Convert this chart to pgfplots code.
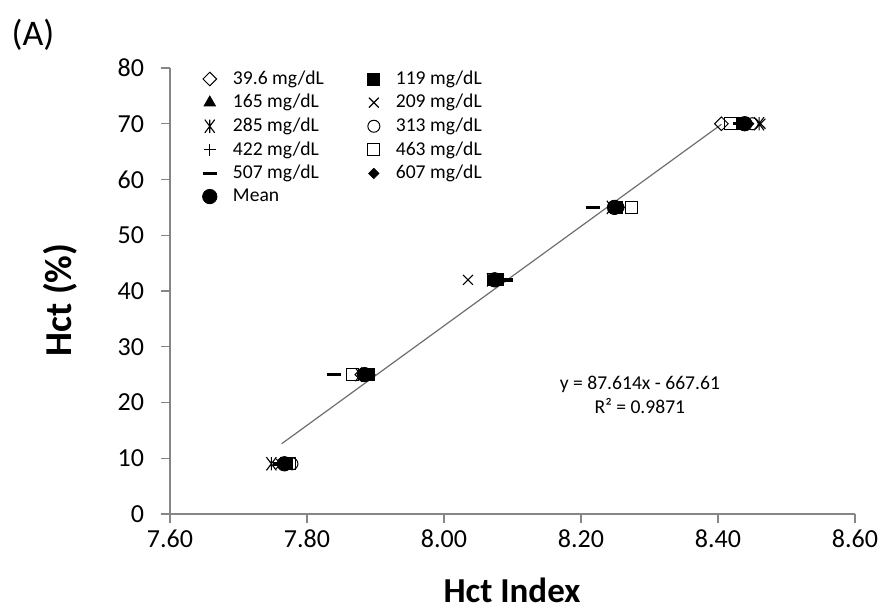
\documentclass[border=0pt]{standalone}
\usepackage{pgfplots}
\pgfplotsset{compat=1.18}
\usepackage{fontspec}
\setmainfont{Carlito}
\definecolor{axisGray}{RGB}{134,134,134}
\definecolor{fitGray}{RGB}{110,110,110}

\pgfdeclareplotmark{xstar}{%
  \pgfpathmoveto{\pgfqpoint{-.75\pgfplotmarksize}{-\pgfplotmarksize}}%
  \pgfpathlineto{\pgfqpoint{.75\pgfplotmarksize}{\pgfplotmarksize}}%
  \pgfpathmoveto{\pgfqpoint{-.75\pgfplotmarksize}{\pgfplotmarksize}}%
  \pgfpathlineto{\pgfqpoint{.75\pgfplotmarksize}{-\pgfplotmarksize}}%
  \pgfpathmoveto{\pgfqpoint{0pt}{-\pgfplotmarksize}}%
  \pgfpathlineto{\pgfqpoint{0pt}{\pgfplotmarksize}}%
  \pgfusepathqstroke}

\begin{document}
\begin{tikzpicture}
\path[use as bounding box] (-85pt,-47.5pt) rectangle (354.5pt,257pt);

\begin{axis}[
    scale only axis,
    width=342.5pt,
    height=223pt,
    xmin=7.6, xmax=8.6,
    ymin=0, ymax=80,
    xtick={7.6,7.8,8.0,8.2,8.4,8.6},
    ytick={0,10,20,30,40,50,60,70,80},
    axis x line*=bottom,
    axis y line*=left,
    axis line style={axisGray, line width=0.6pt},
    tick style={axisGray, line width=0.6pt},
    tick align=outside,
    major tick length=4.5pt,
    tick label style={font=\fontsize{13}{15}\selectfont},
    xticklabel style={/pgf/number format/.cd, fixed, fixed zerofill, precision=2},
    yticklabel style={xshift=-5pt},
    /pgf/number format/assume math mode=true,
    scaled ticks=false,
    clip=false,
    legend columns=2,
    legend cell align=left,
    legend style={
        at={(axis cs:7.647,80.3)},
        anchor=north west,
        draw=none,
        fill=none,
        font=\fontsize{9.8}{11}\selectfont,
        inner sep=0pt,
        row sep=-0.5pt,
        /tikz/every odd column/.append style={column sep=6pt},
        /tikz/every even column/.append style={column sep=20pt},
    },
]

% 39.6 mg/dL
\addplot[only marks, mark=square, mark size=2.4pt,
    mark options={rotate=45, draw=black, fill=white, line width=0.5pt}]
coordinates {(7.768,9) (7.880,25) (8.075,42) (8.250,55) (8.405,70)};
\addlegendentry{39.6 mg/dL}

% 119 mg/dL
\addplot[only marks, mark=square*, mark size=3pt,
    mark options={draw=black, fill=black}]
coordinates {(7.770,9) (7.890,25) (8.078,42) (8.252,55) (8.435,70)};
\addlegendentry{119 mg/dL}

% 165 mg/dL
\addplot[only marks, mark=triangle*, mark size=3.3pt,
    mark options={draw=black, fill=black}]
coordinates {(7.766,9) (7.885,25) (8.072,42) (8.248,55) (8.438,70)};
\addlegendentry{165 mg/dL}

% 209 mg/dL
\addplot[only marks, mark=x, mark size=3.5pt,
    mark options={draw=black, line width=0.55pt}]
coordinates {(7.762,9) (7.883,25) (8.035,42) (8.247,55) (8.462,70)};
\addlegendentry{209 mg/dL}

% 285 mg/dL
\addplot[only marks, mark=xstar, mark size=3.3pt,
    mark options={draw=black, line width=0.55pt}]
coordinates {(7.748,9) (7.878,25) (8.070,42) (8.245,55) (8.460,70)};
\addlegendentry{285 mg/dL}

% 313 mg/dL
\addplot[only marks, mark=o, mark size=3pt,
    mark options={draw=black, fill=white, line width=0.5pt}]
coordinates {(7.778,9) (7.887,25) (8.076,42) (8.254,55) (8.450,70)};
\addlegendentry{313 mg/dL}

% 422 mg/dL
\addplot[only marks, mark=+, mark size=3pt,
    mark options={draw=black, line width=0.55pt}]
coordinates {(7.765,9) (7.882,25) (8.080,42) (8.250,55) (8.440,70)};
\addlegendentry{422 mg/dL}

% 463 mg/dL
\addplot[only marks, mark=square, mark size=3pt,
    mark options={draw=black, fill=white, line width=0.5pt}]
coordinates {(7.775,9) (7.866,25) (8.072,42) (8.273,55) (8.418,70)};
\addlegendentry{463 mg/dL}

% 507 mg/dL
\addplot[only marks, mark=-, mark size=3.5pt,
    mark options={draw=black, line width=1.7pt}]
coordinates {(7.760,9) (7.840,25) (8.090,42) (8.218,55) (8.432,70)};
\addlegendentry{507 mg/dL}

% 607 mg/dL
\addplot[only marks, mark=square*, mark size=1.8pt,
    mark options={rotate=45, draw=black, fill=black}]
coordinates {(7.770,9) (7.892,25) (8.074,42) (8.256,55) (8.445,70)};
\addlegendentry{607 mg/dL}

% Mean
\addplot[only marks, mark=*, mark size=3.6pt,
    mark options={draw=black, fill=black}]
coordinates {(7.767,9) (7.884,25) (8.074,42) (8.249,55) (8.439,70)};
\addlegendentry{Mean}

% linear fit
\addplot[fitGray, line width=0.6pt, forget plot]
coordinates {(7.763,12.6) (8.405,69.9)};

\node[font=\fontsize{9.8}{12}\selectfont, align=center] at (axis cs:8.286,21.4)
    {y = 87.614x - 667.61\\R² = 0.9871};

\end{axis}

\node[font=\fontsize{19}{21}\selectfont\bfseries, rotate=90] at (-55pt,107pt) {Hct (\%)};
\node[font=\fontsize{17.5}{20}\selectfont\bfseries] at (171pt,-38pt) {Hct Index};
\node[font=\fontsize{18}{20}\selectfont] at (-68.5pt,239.5pt) {(A)};
\end{tikzpicture}
\end{document}
